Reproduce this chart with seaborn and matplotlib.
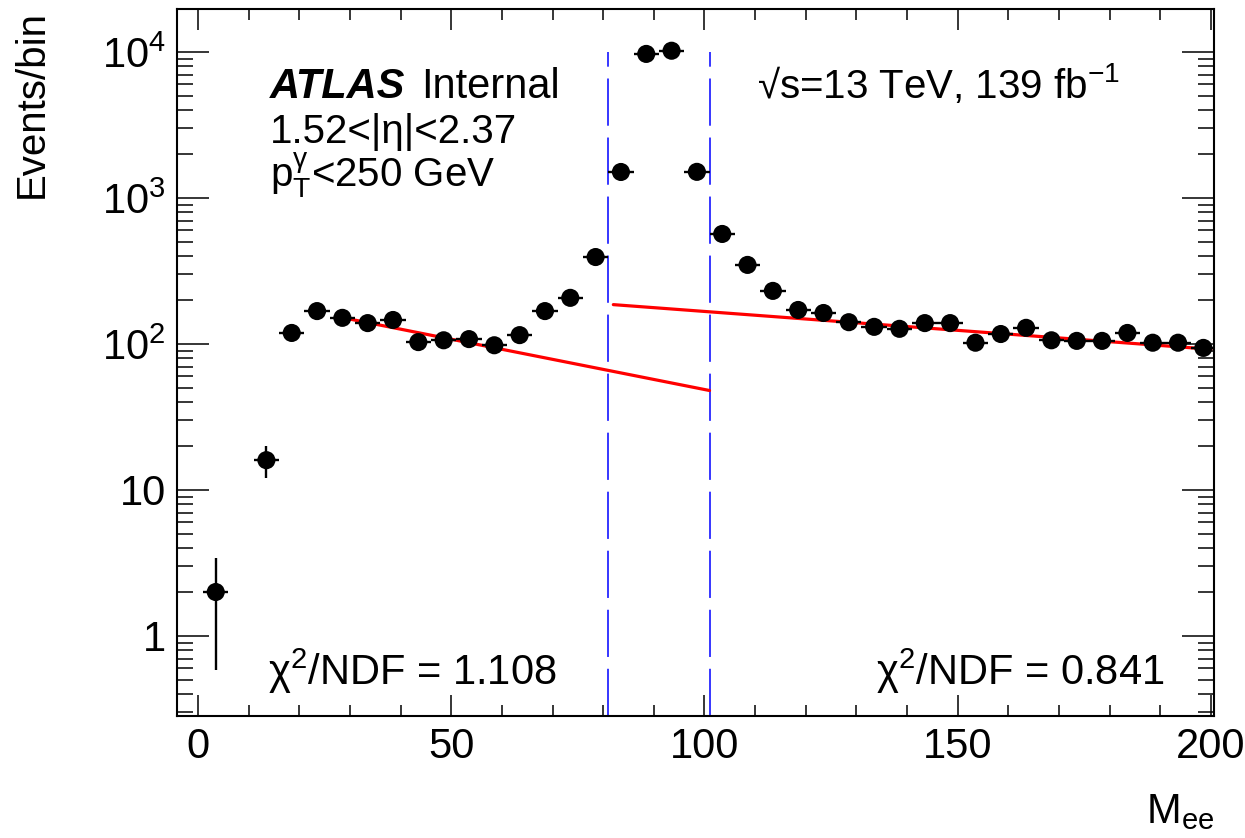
import numpy as np
import matplotlib
matplotlib.use("Agg")
import matplotlib.pyplot as plt
import matplotlib.ticker as mticker
import seaborn as sns
import pandas as pd

# di-electron mass spectrum, 5 GeV bins (bin at 8.5 is empty)
bin_centers = [3.5, 13.5, 18.5, 23.5, 28.5, 33.5, 38.5, 43.5, 48.5, 53.5,
               58.5, 63.5, 68.5, 73.5, 78.5, 83.5, 88.5, 93.5, 98.5, 103.5,
               108.5, 113.5, 118.5, 123.5, 128.5, 133.5, 138.5, 143.5, 148.5, 153.5,
               158.5, 163.5, 168.5, 173.5, 178.5, 183.5, 188.5, 193.5, 198.5]
counts = [2, 16, 119, 168, 151, 139, 146, 103, 106, 108,
          98, 115, 168, 207, 394, 1507, 9700, 10200, 1510, 567,
          348, 231, 171, 163, 141, 131, 127, 139, 139, 102,
          117, 129, 106, 105, 105, 119, 102, 102, 94]
bin_half_width = 2.5

# sideband fits (exponential, straight on log scale)
fit_left_x = [30, 101]
fit_left_y = [148, 48]
fit_right_x = [82, 200]
fit_right_y = [186, 92]

# signal window
window_edges = [81, 101]
window_top = 1e4

chi2_left = "1.108"
chi2_right = "0.841"

ytick_vals = [1, 10, 100, 1000, 10000]
ytick_labels = ["1", "10", "10$^{2}$", "10$^{3}$", "10$^{4}$"]

sns.set_theme(style="ticks")
plt.rcParams["font.family"] = ["Liberation Sans", "DejaVu Sans"]
plt.rcParams["mathtext.fontset"] = "custom"
plt.rcParams["mathtext.rm"] = "Liberation Sans"
plt.rcParams["mathtext.it"] = "Liberation Sans"
plt.rcParams["mathtext.bf"] = "Liberation Sans:bold"
plt.rcParams["mathtext.default"] = "regular"
plt.rcParams["lines.scale_dashes"] = False
plt.rcParams["text.color"] = "black"
plt.rcParams["axes.labelcolor"] = "black"

df = pd.DataFrame({"mee": bin_centers, "events": counts})
df["err"] = np.sqrt(df["events"])

fig = plt.figure(figsize=(12.45, 8.38), dpi=100)
ax = fig.add_axes([177 / 1245, 1 - 716 / 838, 1037 / 1245, 707 / 838])
ax.set_yscale("log")
ax.set_xlim(-4.15, 200.6)
ax.set_ylim(0.283, 19700)

# signal window lines
for xe in window_edges:
    ax.plot([xe, xe], [0.283, window_top], color="#0000ff", lw=1.1,
            linestyle=(0, (34, 8.5)), zorder=2)

# fit lines
sns.lineplot(x=fit_left_x, y=fit_left_y, ax=ax, color="#ff0000", lw=2.3, zorder=3)
sns.lineplot(x=fit_right_x, y=fit_right_y, ax=ax, color="#ff0000", lw=2.3, zorder=3)

# data
ax.errorbar(df["mee"], df["events"], xerr=bin_half_width, yerr=df["err"],
            fmt="none", ecolor="black", elinewidth=1.7, capsize=0, zorder=4)
sns.scatterplot(data=df, x="mee", y="events", ax=ax, color="black", s=170,
                marker="o", edgecolor="none", zorder=5, legend=False)

# axes styling
for sp in ax.spines.values():
    sp.set_linewidth(1.5)
    sp.set_color("black")
ax.xaxis.set_major_locator(mticker.MultipleLocator(50))
ax.xaxis.set_minor_locator(mticker.MultipleLocator(10))
ax.yaxis.set_major_locator(mticker.FixedLocator(ytick_vals))
ax.yaxis.set_major_formatter(mticker.FixedFormatter(ytick_labels))
ax.yaxis.set_minor_locator(mticker.LogLocator(base=10, subs=np.arange(2, 10)))
ax.yaxis.set_minor_formatter(mticker.NullFormatter())
ax.tick_params(axis="both", which="both", direction="in", top=True, right=True,
               width=1.1, color="black", labelsize=30, labelcolor="black")
ax.tick_params(axis="x", which="major", length=15, pad=8)
ax.tick_params(axis="x", which="minor", length=8)
ax.tick_params(axis="y", which="major", length=23, pad=8)
ax.tick_params(axis="y", which="minor", length=11.5)

ax.set_xlabel("M$_{ee}$", fontsize=30, loc="right")
ax.xaxis.set_label_coords(1.0, -0.108)
ax.xaxis.label.set_va("top")
ax.set_ylabel("Events/bin", fontsize=29, loc="top")
ax.yaxis.set_label_coords(-0.122, 0.998)

# labels
ax.text(0.0897, 0.874, "ATLAS", transform=ax.transAxes, fontsize=30,
        fontweight="bold", fontstyle="italic", va="baseline")
ax.text(0.235, 0.874, "Internal", transform=ax.transAxes, fontsize=30, va="baseline")
ax.text(0.0897, 0.810, "1.52<|η|<2.37", transform=ax.transAxes, fontsize=29, va="baseline")
ax.text(0.0897, 0.748, "p$_{T}^{γ}$<250 GeV", transform=ax.transAxes, fontsize=29, va="baseline")
ax.text(0.559, 0.874, "√s=13 TeV, 139 fb$^{-1}$", transform=ax.transAxes,
        fontsize=29, va="baseline")
ax.text(0.0878, 0.0438, "χ$^{2}$/NDF = " + chi2_left, transform=ax.transAxes,
        fontsize=30, va="baseline")
ax.text(0.952, 0.0438, "χ$^{2}$/NDF = " + chi2_right, transform=ax.transAxes,
        fontsize=30, va="baseline", ha="right")

fig.savefig("out.png", dpi=100)
